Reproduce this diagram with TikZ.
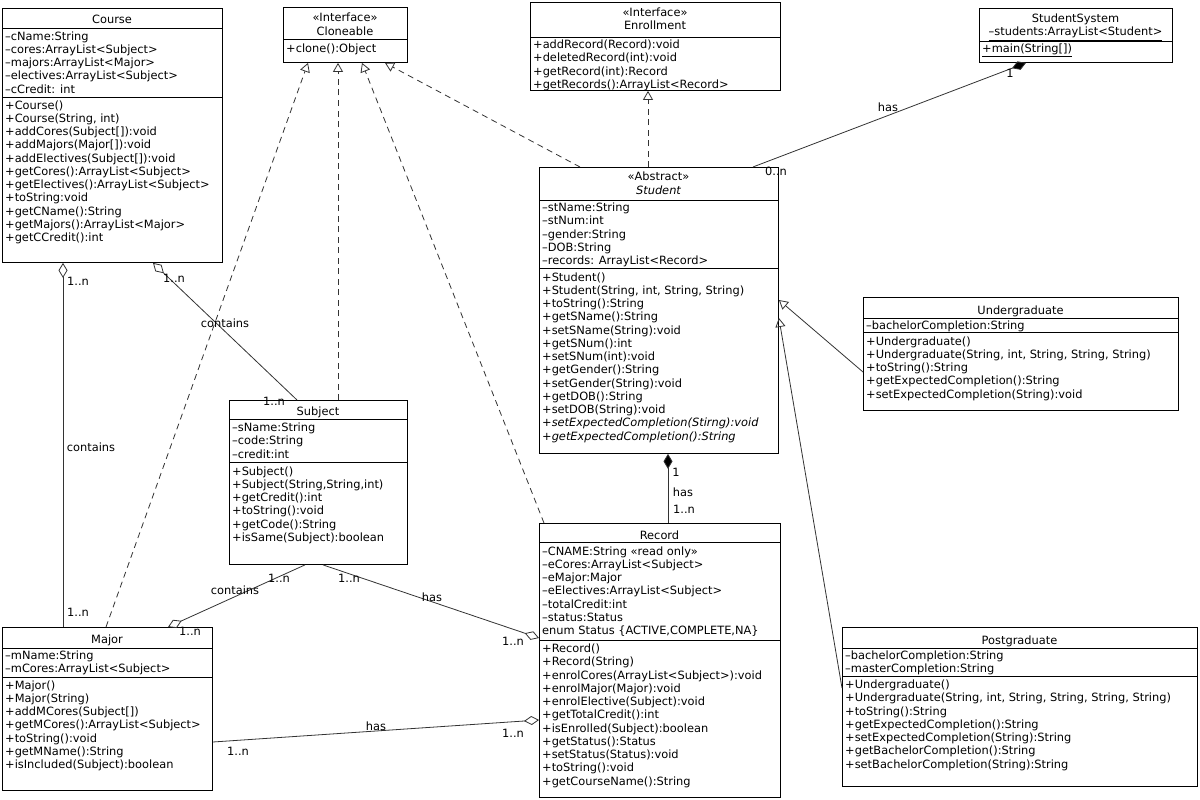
\documentclass[tikz,border=0pt]{standalone}
\usepackage{fontspec}
\setmainfont{DejaVu Sans}
\usetikzlibrary{arrows.meta,calc}
\newcommand\uf{\fontsize{11.4}{13.25}\selectfont}
\newcommand\fl{\rule{0pt}{9.5pt}}
\begin{document}
\begin{tikzpicture}[x=1pt,y=-1pt,
  cls/.style={draw=black,line width=0.9pt,inner sep=0pt,anchor=north west,rectangle},
  sepl/.style={draw=black,line width=0.9pt},
  txt/.style={inner sep=0pt,anchor=north west,align=left,font=\uf},
  ttl/.style={inner sep=0pt,anchor=base,font=\uf},
  lbl/.style={inner sep=0pt,font=\uf},
  conn/.style={draw=black!80,line width=0.8pt},
  real/.style={conn,dash pattern=on 6pt off 4.5pt,-{Triangle[open,length=9pt,width=10pt]}},
  gen/.style={conn,-{Triangle[open,length=9pt,width=10pt]}},
  agg/.style={conn,-{Diamond[open,length=15pt,width=9pt]}},
  comp/.style={conn,-{Diamond[length=15pt,width=9pt,fill=black]}}]
\fill[white] (0,0) rectangle (1200,800);
\useasboundingbox (0,0) rectangle (1200,800);

% ---------- Course ----------
\node[cls,minimum width=220pt,minimum height=254pt] (course) at (2,8) {};
\draw[sepl] ([yshift=-20pt]course.north west) -- ([yshift=-20pt]course.north east);
\draw[sepl] ([yshift=-89pt]course.north west) -- ([yshift=-89pt]course.north east);
\node[ttl] (course-t) at (112,23.5) {Course};
\node[txt] (course-a) at (5,30.5) {\fl–cName:String\\–cores:ArrayList<Subject>\\–majors:ArrayList<Major>\\–electives:ArrayList<Subject>\\–cCredit: int};
\node[txt] (course-m) at (5,99.5) {\fl+Course()\\+Course(String, int)\\+addCores(Subject[]):void\\+addMajors(Major[]):void\\+addElectives(Subject[]):void\\+getCores():ArrayList<Subject>\\+getElectives():ArrayList<Subject>\\+toString:void\\+getCName():String\\+getMajors():ArrayList<Major>\\+getCCredit():int};

% ---------- Cloneable ----------
\node[cls,minimum width=124pt,minimum height=55pt] (cloneable) at (283,7) {};
\draw[sepl] ([yshift=-32pt]cloneable.north west) -- ([yshift=-32pt]cloneable.north east);
\node[ttl] (cloneable-s) at (345,21.5) {«Interface»};
\node[ttl] (cloneable-t) at (345,35.5) {Cloneable};
\node[txt] (cloneable-m) at (286,42.5) {\fl+clone():Object};

% ---------- Enrollment ----------
\node[cls,minimum width=250pt,minimum height=88pt] (enrollment) at (530,2) {};
\draw[sepl] ([yshift=-35pt]enrollment.north west) -- ([yshift=-35pt]enrollment.north east);
\node[ttl] (enrollment-s) at (655,16.5) {«Interface»};
\node[ttl] (enrollment-t) at (655,30) {Enrollment};
\node[txt] (enrollment-m) at (533,39) {\fl+addRecord(Record):void\\+deletedRecord(int):void\\+getRecord(int):Record\\+getRecords():ArrayList<Record>};

% ---------- StudentSystem ----------
\node[cls,minimum width=193pt,minimum height=54pt] (studentsystem) at (979,8) {};
\draw[sepl] ([yshift=-33pt]studentsystem.north west) -- ([yshift=-33pt]studentsystem.north east);
\node[ttl] (studentsystem-t) at (1075.5,22.5) {StudentSystem};
\node[ttl] (studentsystem-a) at (1075.5,36) {\underline{–students:ArrayList<Student>}};
\node[txt] (studentsystem-m) at (982,42.5) {\fl\underline{+main(String[])}};

% ---------- Student ----------
\node[cls,minimum width=239pt,minimum height=286pt] (student) at (539,167) {};
\draw[sepl] ([yshift=-33pt]student.north west) -- ([yshift=-33pt]student.north east);
\draw[sepl] ([yshift=-101pt]student.north west) -- ([yshift=-101pt]student.north east);
\node[ttl] (student-s) at (658.5,180) {«Abstract»};
\node[ttl] (student-t) at (658.5,194) {\itshape Student};
\node[txt] (student-a) at (542,202) {\fl–stName:String\\–stNum:int\\–gender:String\\–DOB:String\\–records: ArrayList<Record>};
\node[txt] (student-m) at (542,271.5) {\fl+Student()\\+Student(String, int, String, String)\\+toString():String\\+getSName():String\\+setSName(String):void\\+getSNum():int\\+setSNum(int):void\\+getGender():String\\+setGender(String):void\\+getDOB():String\\+setDOB(String):void\\\textit{+setExpectedCompletion(Stirng):void}\\\textit{+getExpectedCompletion():String}};

% ---------- Undergraduate ----------
\node[cls,minimum width=315pt,minimum height=113pt] (undergraduate) at (863,297) {};
\draw[sepl] ([yshift=-21pt]undergraduate.north west) -- ([yshift=-21pt]undergraduate.north east);
\draw[sepl] ([yshift=-35pt]undergraduate.north west) -- ([yshift=-35pt]undergraduate.north east);
\node[ttl] (undergraduate-t) at (1020.5,314) {Undergraduate};
\node[txt] (undergraduate-a) at (866,319.5) {\fl–bachelorCompletion:String};
\node[txt] (undergraduate-m) at (866,335.5) {\fl+Undergraduate()\\+Undergraduate(String, int, String, String, String)\\+toString():String\\+getExpectedCompletion():String\\+setExpectedCompletion(String):void};

% ---------- Postgraduate ----------
\node[cls,minimum width=355pt,minimum height=159pt] (postgraduate) at (842,627) {};
\draw[sepl] ([yshift=-21pt]postgraduate.north west) -- ([yshift=-21pt]postgraduate.north east);
\draw[sepl] ([yshift=-49pt]postgraduate.north west) -- ([yshift=-49pt]postgraduate.north east);
\node[ttl] (postgraduate-t) at (1019.5,644) {Postgraduate};
\node[txt] (postgraduate-a) at (845,650) {\fl–bachelorCompletion:String\\–masterCompletion:String};
\node[txt] (postgraduate-m) at (845,679) {\fl+Undergraduate()\\+Undergraduate(String, int, String, String, String, String)\\+toString():String\\+getExpectedCompletion():String\\+setExpectedCompletion(String):String\\+getBachelorCompletion():String\\+setBachelorCompletion(String):String};

% ---------- Subject ----------
\node[cls,minimum width=178pt,minimum height=164pt] (subject) at (229,400) {};
\draw[sepl] ([yshift=-19pt]subject.north west) -- ([yshift=-19pt]subject.north east);
\draw[sepl] ([yshift=-62pt]subject.north west) -- ([yshift=-62pt]subject.north east);
\node[ttl] (subject-t) at (318,415.5) {Subject};
\node[txt] (subject-a) at (232,422) {\fl–sName:String\\–code:String\\–credit:int};
\node[txt] (subject-m) at (232,465.5) {\fl+Subject()\\+Subject(String,String,int)\\+getCredit():int\\+toString():void\\+getCode():String\\+isSame(Subject):boolean};

% ---------- Record ----------
\node[cls,minimum width=241pt,minimum height=274pt] (record) at (539,523) {};
\draw[sepl] ([yshift=-19pt]record.north west) -- ([yshift=-19pt]record.north east);
\draw[sepl] ([yshift=-117pt]record.north west) -- ([yshift=-117pt]record.north east);
\node[ttl] (record-t) at (659.5,539) {Record};
\node[txt] (record-a) at (542,545.5) {\fl–CNAME:String «read only»\\–eCores:ArrayList<Subject>\\–eMajor:Major\\–eElectives:ArrayList<Subject>\\–totalCredit:int\\–status:Status\\enum Status \{ACTIVE,COMPLETE,NA\}};
\node[txt] (record-m) at (542,643) {\fl+Record()\\+Record(String)\\+enrolCores(ArrayList<Subject>):void\\+enrolMajor(Major):void\\+enrolElective(Subject):void\\+getTotalCredit():int\\+isEnrolled(Subject):boolean\\+getStatus():Status\\+setStatus(Status):void\\+toString():void\\+getCourseName():String};

% ---------- Major ----------
\node[cls,minimum width=210pt,minimum height=163pt] (major) at (2,627) {};
\draw[sepl] ([yshift=-21pt]major.north west) -- ([yshift=-21pt]major.north east);
\draw[sepl] ([yshift=-50pt]major.north west) -- ([yshift=-50pt]major.north east);
\node[ttl] (major-t) at (107,643.5) {Major};
\node[txt] (major-a) at (5,650) {\fl–mName:String\\–mCores:ArrayList<Subject>};
\node[txt] (major-m) at (5,679.5) {\fl+Major()\\+Major(String)\\+addMCores(Subject[])\\+getMCores():ArrayList<Subject>\\+toString():void\\+getMName():String\\+isIncluded(Subject):boolean};

% ---------- Connectors ----------
% realizations to Cloneable
\draw[real] ($(major.north west)+(104,0)$) -- ($(cloneable.south west)+(25,0)$);
\draw[real] ($(subject.north west)+(109,0)$) -- ($(cloneable.south west)+(55,0)$);
\draw[real] ($(record.north west)+(5,0)$) -- ($(cloneable.south west)+(79,0)$);
\draw[real] ($(student.north west)+(41,0)$) -- ($(cloneable.south west)+(102,0)$);
% realization to Enrollment
\draw[real] ($(student.north west)+(109,0)$) -- ($(enrollment.south west)+(118,0)$);
% generalizations
\draw[gen] ($(undergraduate.north west)+(0,75)$) -- ($(student.north east)+(0,133)$);
\draw[gen] ($(postgraduate.north west)+(0,61)$) -- ($(student.north east)+(0,151)$);
% compositions
\draw[comp] ($(student.north east)+(-26,0)$) -- ($(studentsystem.south west)+(47,0)$);
\draw[comp] ($(record.north west)+(129,0)$) -- ($(student.south west)+(129,0)$);
% aggregations
\draw[agg] ($(major.north west)+(61,0)$) -- ($(course.south west)+(61,0)$);
\draw[agg] ($(subject.north west)+(68,0)$) -- ($(course.south west)+(151,0)$);
\draw[agg] ($(subject.south west)+(76,0)$) -- ($(major.north west)+(166,0)$);
\draw[agg] ($(subject.south west)+(94,0)$) -- ($(record.north west)+(0,115)$);
\draw[agg] ($(major.north east)+(0,115)$) -- ($(record.north west)+(0,197)$);

% ---------- Labels ----------
\node[lbl] (l1) at (78,281) {1..n};
\node[lbl] (l2) at (91,447) {contains};
\node[lbl] (l3) at (78,612) {1..n};
\node[lbl] (l4) at (174,278) {1..n};
\node[lbl] (l5) at (225,323) {contains};
\node[lbl] (l6) at (274,401) {1..n};
\node[lbl] (l7) at (279,578) {1..n};
\node[lbl] (l8) at (235,590) {contains};
\node[lbl] (l9) at (190,631) {1..n};
\node[lbl] (l10) at (349,578) {1..n};
\node[lbl] (l11) at (432,597) {has};
\node[lbl] (l12) at (513,641) {1..n};
\node[lbl] (l13) at (238,751) {1..n};
\node[lbl] (l14) at (376,726) {has};
\node[lbl] (l15) at (513,733) {1..n};
\node[lbl] (l16) at (676,472) {1};
\node[lbl] (l17) at (683,492) {has};
\node[lbl] (l18) at (684,509) {1..n};
\node[lbl] (l19) at (1010,73) {1};
\node[lbl] (l20) at (888,107) {has};
\node[lbl] (l21) at (776,171) {0..n};
\end{tikzpicture}
\end{document}
